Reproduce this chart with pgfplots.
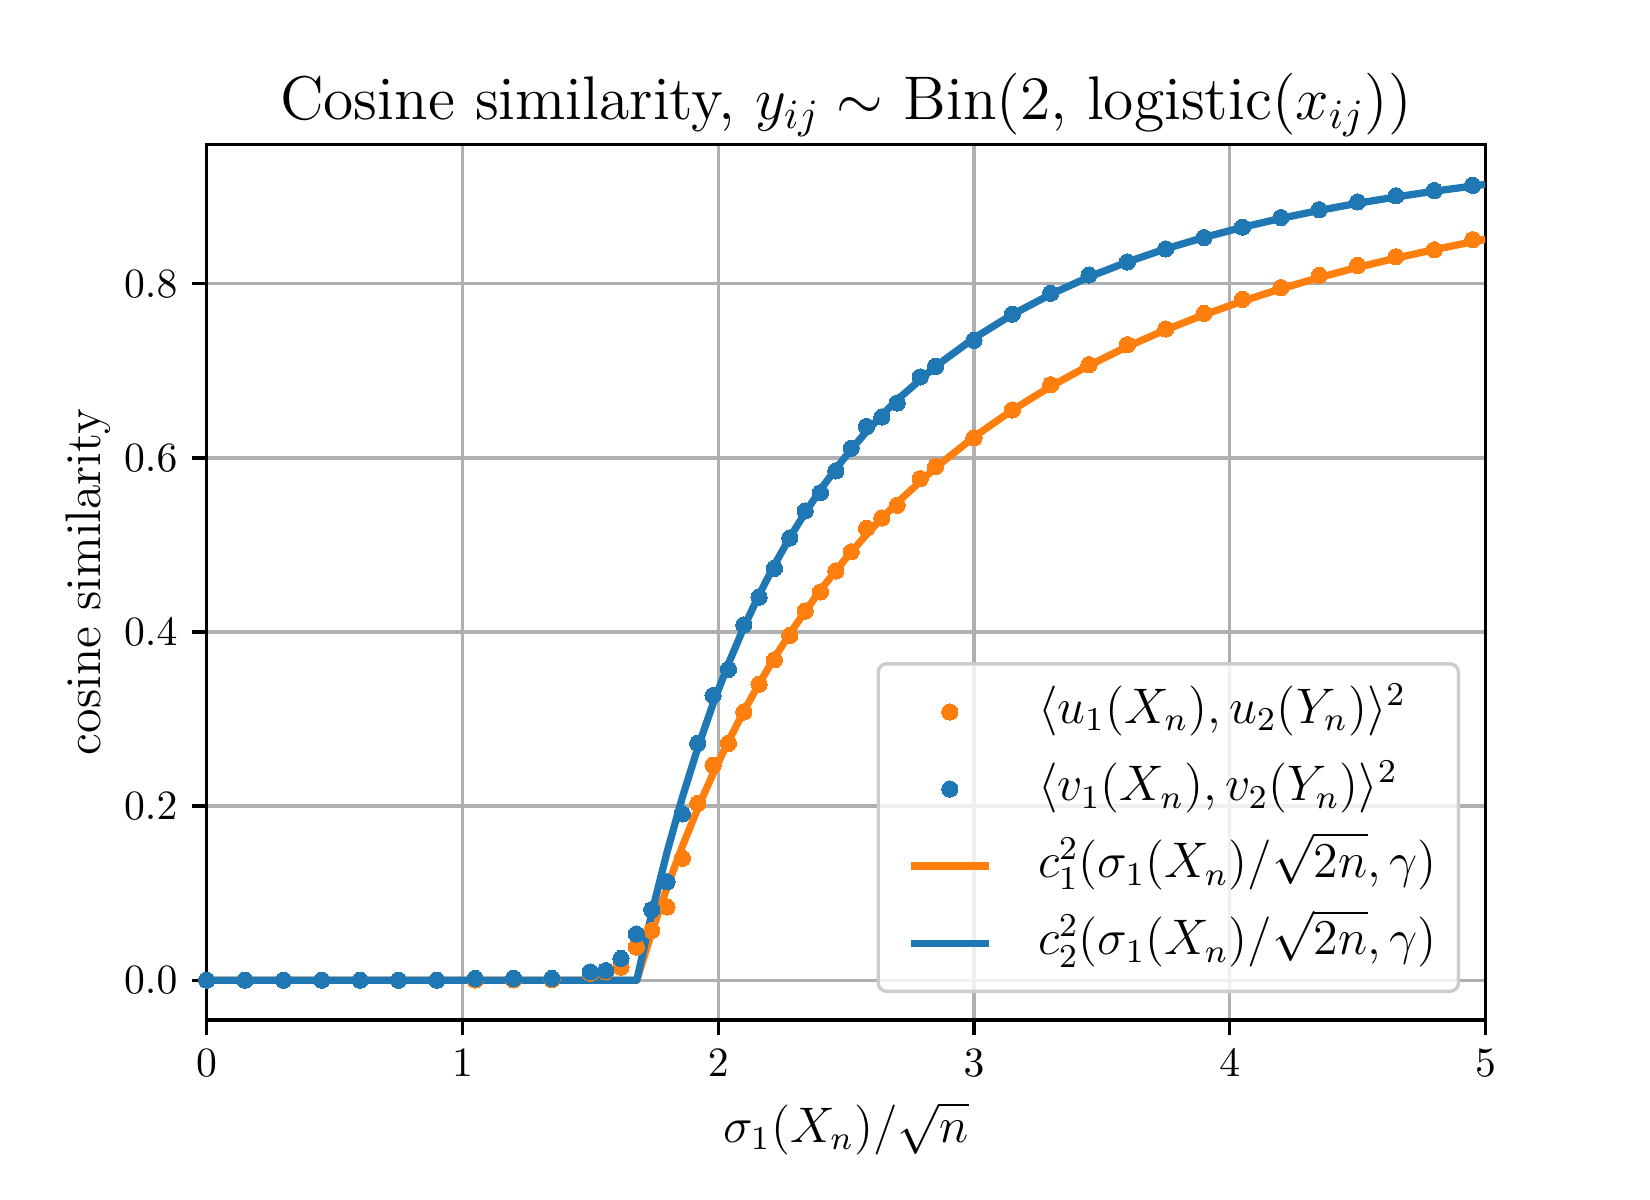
\documentclass[border=0pt]{standalone}
\usepackage{pgfplots}
\pgfplotsset{compat=1.18}
\definecolor{tabblue}{HTML}{1F77B4}
\definecolor{taborange}{HTML}{FF7F0E}
\pgfplotsset{
  dotlegend/.style={legend image code/.code={\path (0pt,0pt); \draw[mark repeat=2,mark phase=2,##1,fill opacity=1,draw opacity=1] plot coordinates {(4.7pt,0pt)(14.1pt,0pt)(23.5pt,0pt)};}},
  linelegend/.style={legend image code/.code={\path (0pt,0pt); \draw[##1,draw opacity=1] (4.7pt,0pt) -- (23.5pt,0pt);}},
}
\begin{document}
\begin{tikzpicture}
\useasboundingbox (-49.6pt,-43.2pt) rectangle (346.4pt,244.8pt);
\begin{axis}[
  at={(0,0)}, anchor=south west,
  scale only axis, width=306.9pt, height=210.2pt,
  xmin=0, xmax=5, ymin=-0.0457, ymax=0.9603,
  xtick={0,1,2,3,4,5}, ytick={0,0.2,0.4,0.6,0.8},
  yticklabel style={/pgf/number format/.cd, fixed, fixed zerofill, precision=1},
  tick align=outside, tick pos=left,
  major tick length=3.5pt,
  every tick/.style={black, line width=0.8pt},
  axis line style={line width=0.8pt},
  grid=major, major grid style={color=black!31, line width=0.8pt},
  ticklabel style={font=\fontsize{10.3}{12}\selectfont},
  title={Cosine similarity, $y_{ij} \sim$ Bin(2, logistic($x_{ij}$))},
  title style={font=\fontsize{14.8}{17}\selectfont, at={(axis description cs:0.5,0.9995)}, anchor=base},
  xlabel={$\sigma_1(X_n)/\sqrt{n}$},
  ylabel={cosine similarity},
  label style={font=\fontsize{12}{14}\selectfont},
  xlabel style={at={(axis description cs:0.5,-0.124)}, anchor=center},
  ylabel style={at={(axis description cs:-0.0928,0.5)}, anchor=center},
  legend cell align=left,
  legend style={at={(axis description cs:0.9802,0.0308)}, anchor=south east,
    draw=black!20, line width=0.8pt, rounded corners=2pt, fill=white, fill opacity=0.8, text opacity=1,
    font=\fontsize{12}{14}\selectfont,
    inner xsep=2.2pt, inner ysep=5.3pt, row sep=6pt,
    nodes={inner xsep=3pt, inner ysep=0pt, text height=9pt, text depth=3.5pt},
    /tikz/every odd column/.append style={column sep=7.9pt}},
]
\addplot[only marks, mark=*, mark size=1.95pt, color=taborange, mark options={fill=taborange, draw=taborange, line width=0pt}, dotlegend]
coordinates {(0,0) (0.15,0) (0.3,0) (0.45,0) (0.6,0) (0.75,0) (0.9,0) (1.05,0.0003) (1.2,0.0003) (1.35,0.0005) (1.5,0.008) (1.56,0.0095) (1.62,0.015) (1.68,0.038) (1.74,0.057) (1.80,0.084) (1.86,0.140) (1.92,0.203) (1.98,0.247) (2.04,0.272) (2.10,0.308) (2.16,0.340) (2.22,0.368) (2.28,0.396) (2.34,0.424) (2.40,0.446) (2.46,0.470) (2.52,0.492) (2.58,0.519) (2.64,0.531) (2.70,0.5455) (2.79,0.576) (2.85,0.590) (3.00,0.623) (3.15,0.655) (3.30,0.684) (3.45,0.707) (3.60,0.730) (3.75,0.748) (3.90,0.766) (4.05,0.782) (4.20,0.7955) (4.35,0.8096) (4.50,0.821) (4.65,0.831) (4.80,0.839) (4.95,0.8506)};
\addlegendentry{$\langle u_1(X_n), u_2(Y_n)\rangle^2$}
\addplot[only marks, mark=*, mark size=1.95pt, color=tabblue, mark options={fill=tabblue, draw=tabblue, line width=0pt}, dotlegend]
coordinates {(0,0) (0.15,0) (0.3,0) (0.45,0) (0.6,0) (0.75,0) (0.9,0) (1.05,0.002) (1.2,0.002) (1.35,0.002) (1.5,0.0095) (1.56,0.011) (1.62,0.025) (1.68,0.053) (1.74,0.081) (1.80,0.113) (1.86,0.191) (1.92,0.272) (1.98,0.327) (2.04,0.357) (2.10,0.408) (2.16,0.440) (2.22,0.473) (2.28,0.508) (2.34,0.539) (2.40,0.560) (2.46,0.585) (2.52,0.611) (2.58,0.636) (2.64,0.647) (2.70,0.663) (2.79,0.693) (2.85,0.705) (3.00,0.735) (3.15,0.765) (3.30,0.789) (3.45,0.810) (3.60,0.825) (3.75,0.840) (3.90,0.853) (4.05,0.865) (4.20,0.876) (4.35,0.885) (4.50,0.894) (4.65,0.901) (4.80,0.907) (4.95,0.913)};
\addlegendentry{$\langle v_1(X_n), v_2(Y_n)\rangle^2$}
\addplot[color=taborange, line width=1.75pt, line join=round, mark=none, linelegend]
coordinates {(0,0) (1.6818,0) (1.74,0.0548) (1.80,0.1065) (1.86,0.1538) (1.92,0.1973) (1.98,0.2373) (2.04,0.2744) (2.10,0.3087) (2.16,0.3405) (2.22,0.3702) (2.28,0.3978) (2.34,0.4237) (2.40,0.4479) (2.46,0.4705) (2.52,0.4918) (2.58,0.5119) (2.64,0.5307) (2.70,0.5485) (2.85,0.5888) (3.0,0.6239) (3.15,0.6548) (3.3,0.682) (3.45,0.7062) (3.6,0.7278) (3.75,0.7471) (3.9,0.7644) (4.05,0.78) (4.2,0.7942) (4.35,0.8071) (4.5,0.8188) (4.65,0.8294) (4.8,0.8392) (4.95,0.8482) (5.0,0.8510)};
\addlegendentry{$c_1^2(\sigma_1(X_n)/\sqrt{2n}, \gamma)$}
\addplot[color=tabblue, line width=1.75pt, line join=round, mark=none, linelegend]
coordinates {(0,0) (1.6818,0) (1.74,0.0766) (1.80,0.147) (1.86,0.210) (1.92,0.2666) (1.98,0.3175) (2.04,0.3634) (2.10,0.405) (2.16,0.4427) (2.22,0.477) (2.28,0.5084) (2.34,0.537) (2.40,0.5633) (2.46,0.5874) (2.52,0.6096) (2.58,0.6301) (2.64,0.6491) (2.70,0.6666) (2.85,0.7051) (3.0,0.7374) (3.15,0.7646) (3.3,0.7878) (3.45,0.8078) (3.6,0.825) (3.75,0.8401) (3.9,0.8532) (4.05,0.8648) (4.2,0.8751) (4.35,0.8842) (4.5,0.8924) (4.65,0.8997) (4.8,0.9063) (4.95,0.9122) (5.0,0.9141)};
\addlegendentry{$c_2^2(\sigma_1(X_n)/\sqrt{2n}, \gamma)$}
\end{axis}
\end{tikzpicture}
\end{document}
